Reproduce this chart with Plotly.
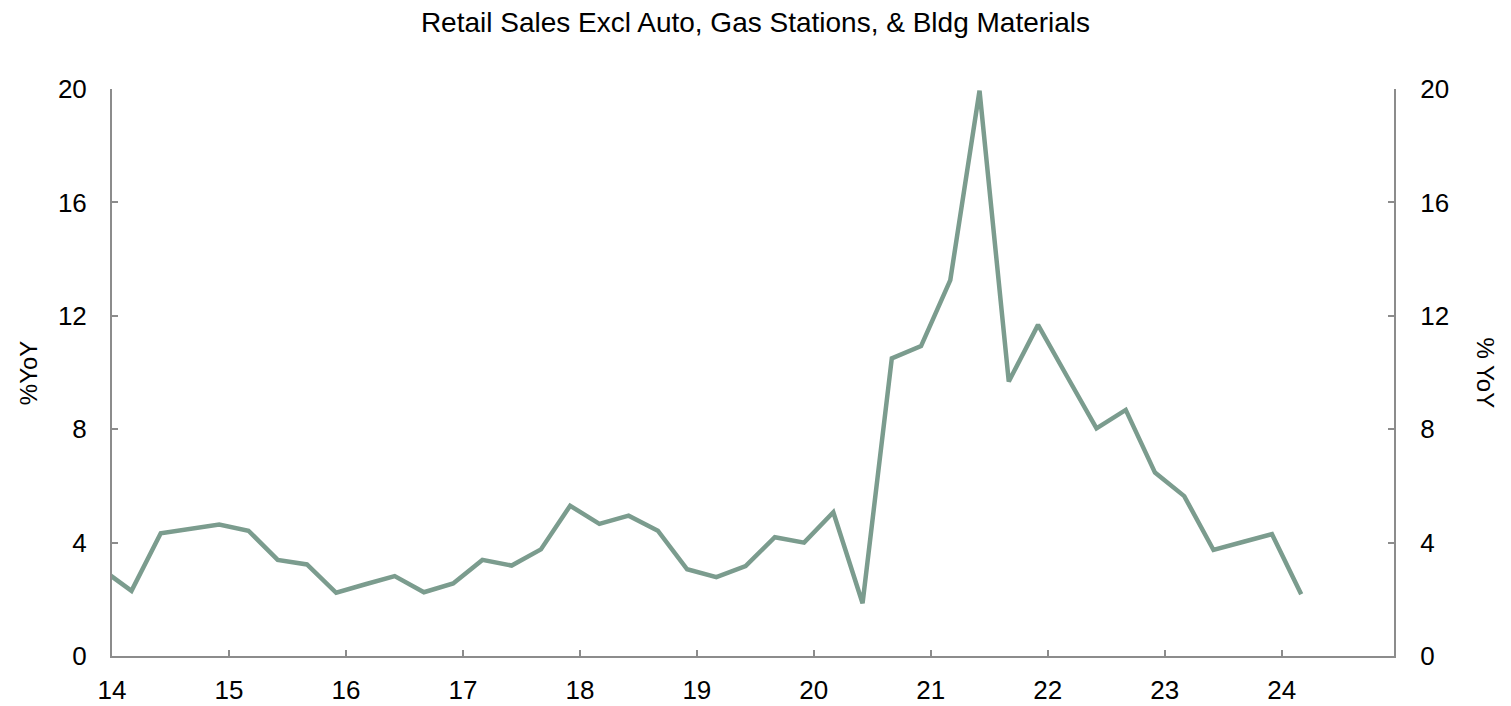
import plotly.graph_objects as go

# Quarter-end observations (year, month) and year-over-year growth, %
quarters = [
    (2013, 12), (2014, 3), (2014, 6), (2014, 9), (2014, 12),
    (2015, 3), (2015, 6), (2015, 9), (2015, 12),
    (2016, 3), (2016, 6), (2016, 9), (2016, 12),
    (2017, 3), (2017, 6), (2017, 9), (2017, 12),
    (2018, 3), (2018, 6), (2018, 9), (2018, 12),
    (2019, 3), (2019, 6), (2019, 9), (2019, 12),
    (2020, 3), (2020, 6), (2020, 9), (2020, 12),
    (2021, 3), (2021, 6), (2021, 9), (2021, 12),
    (2022, 3), (2022, 6), (2022, 9), (2022, 12),
    (2023, 3), (2023, 6), (2023, 9), (2023, 12),
    (2024, 3),
]
yoy = [
    3.05, 2.30, 4.33, 4.50, 4.64,
    4.42, 3.39, 3.23, 2.23,
    2.53, 2.82, 2.25, 2.56,
    3.39, 3.19, 3.76, 5.30,
    4.66, 4.95, 4.42, 3.06,
    2.78, 3.17, 4.19, 4.00,
    5.07, 1.86, 10.50, 10.93,
    13.26, 19.94, 9.68, 11.68,
    9.85, 8.03, 8.68, 6.47,
    5.64, 3.74, 4.02, 4.30,
    2.18,
]
year_ticks = [14, 15, 16, 17, 18, 19, 20, 21, 22, 23, 24]
year_labels = ["14", "15", "16", "17", "18", "19", "20", "21", "22", "23", "24"]
y_ticks = [0, 4, 8, 12, 16, 20]

# Two-digit year as a decimal position on the x axis
x = [(y - 2000) + (m - 1) / 12 for y, m in quarters]

FONT = "Liberation Sans, Arial, sans-serif"
AXIS_GRAY = "#8c8c8c"
LINE_COLOR = "#7b9c8e"

fig = go.Figure()
fig.add_trace(go.Scatter(
    x=x, y=yoy, mode="lines",
    line=dict(color=LINE_COLOR, width=4.5),
    showlegend=False, hoverinfo="skip",
))
# invisible trace so the right-hand axis is drawn
fig.add_trace(go.Scatter(
    x=[x[0]], y=[yoy[0]], yaxis="y2", mode="lines",
    line=dict(width=0), showlegend=False, hoverinfo="skip",
))

axis_common = dict(
    showgrid=False, zeroline=False, showline=True, automargin=False,
    linecolor=AXIS_GRAY, linewidth=2,
    ticks="inside", ticklen=6, tickwidth=1.5, tickcolor=AXIS_GRAY,
    tickfont=dict(family=FONT, size=26, color="#000000"),
)

fig.update_layout(
    width=1511, height=706,
    margin=dict(l=112, r=117, t=89, b=50),
    paper_bgcolor="white", plot_bgcolor="white",
    title=dict(
        text="Retail Sales Excl Auto, Gas Stations, & Bldg Materials",
        x=0.5, xanchor="center", y=0.968, yanchor="middle",
        font=dict(family=FONT, size=28, color="#000000"),
    ),
    xaxis=dict(
        range=[14, 24.96], tickvals=year_ticks, ticktext=year_labels,
        ticklabelstandoff=10, **axis_common,
    ),
    yaxis=dict(
        range=[0, 20], tickvals=y_ticks, side="left",
        ticklabelstandoff=18, **axis_common,
    ),
    yaxis2=dict(
        range=[0, 20], tickvals=y_ticks, side="right", overlaying="y",
        ticklabelstandoff=19, **axis_common,
    ),
    annotations=[
        dict(text="%YoY", textangle=-90, xref="paper", yref="paper",
             x=-0.065, y=0.5, xanchor="center", yanchor="middle",
             showarrow=False, font=dict(family=FONT, size=24, color="#000000")),
        dict(text="% YoY", textangle=90, xref="paper", yref="paper",
             x=1.071, y=0.5, xanchor="center", yanchor="middle",
             showarrow=False, font=dict(family=FONT, size=24, color="#000000")),
    ],
)

fig.write_html("out.html")
